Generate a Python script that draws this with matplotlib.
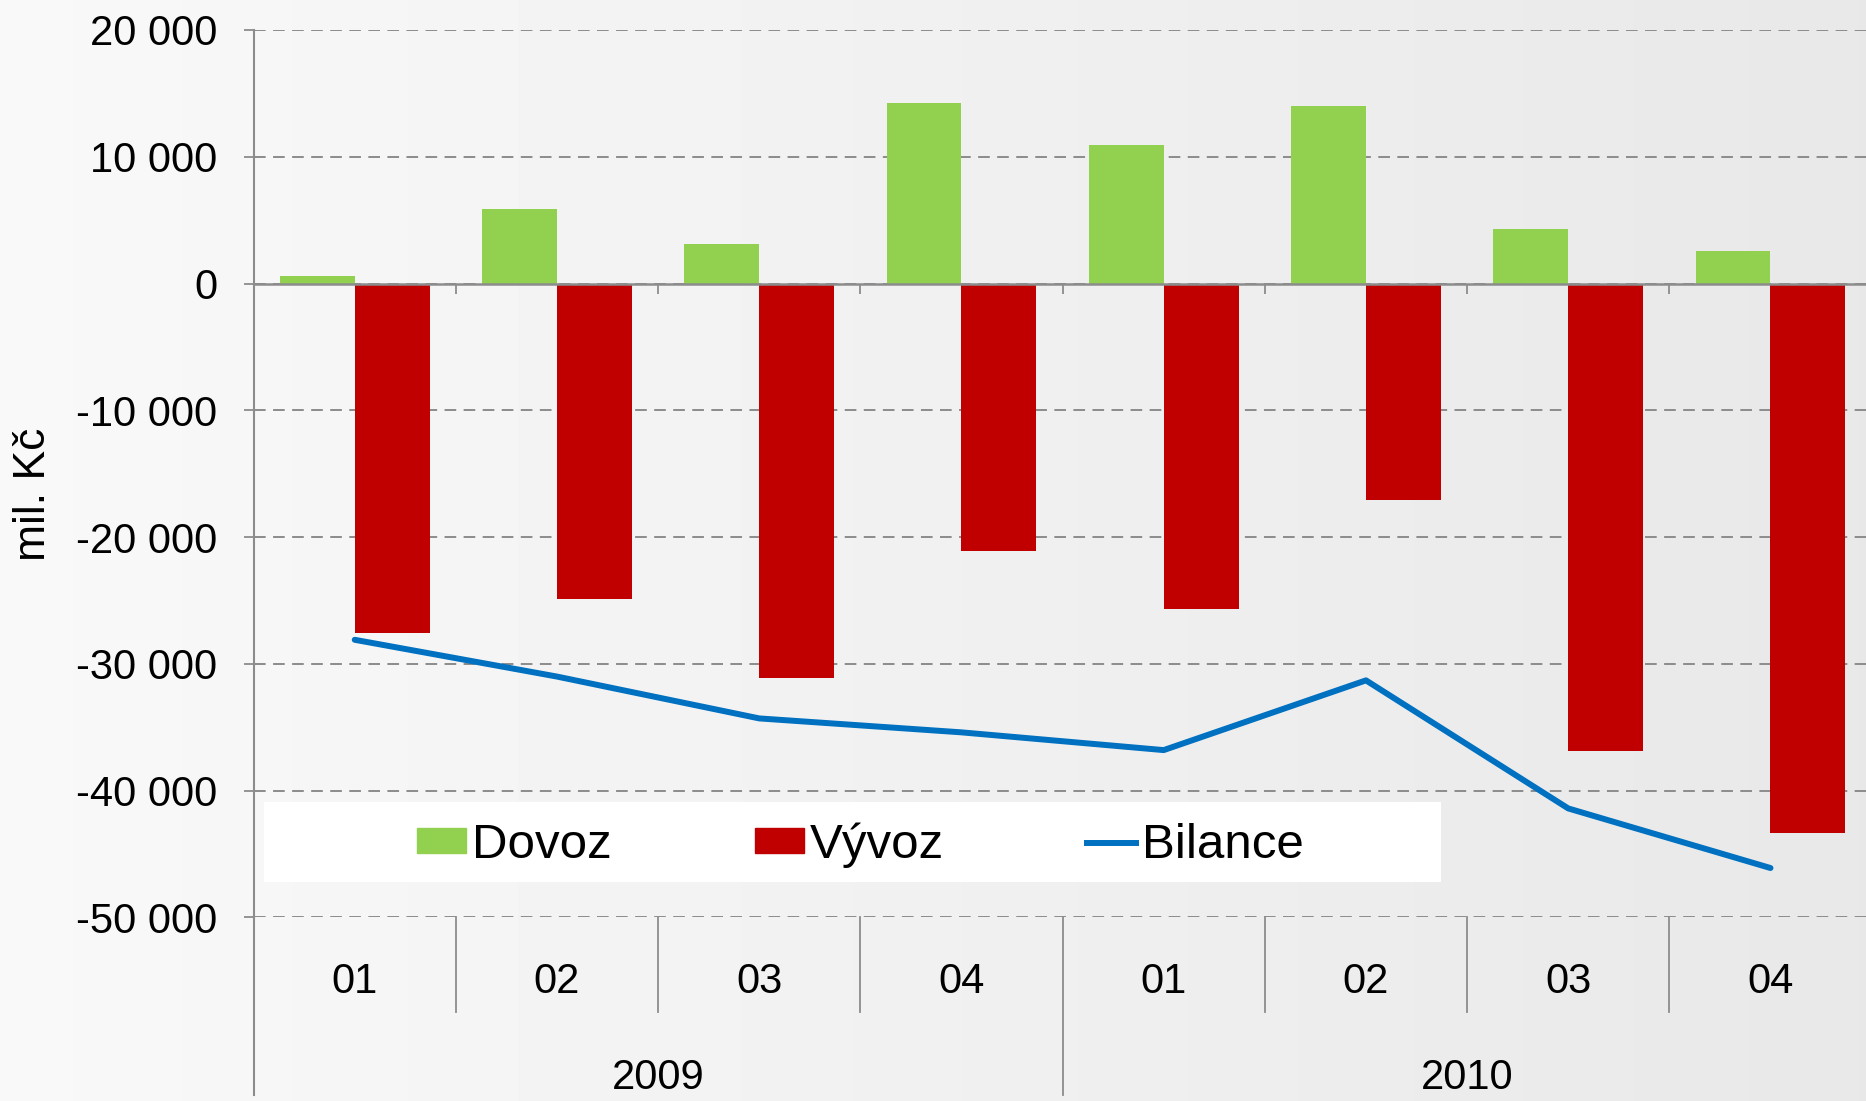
import matplotlib.pyplot as plt
import numpy as np
from matplotlib.transforms import blended_transform_factory
from matplotlib.patches import Rectangle
from matplotlib.lines import Line2D

plt.rcParams['font.family'] = ['Liberation Sans', 'DejaVu Sans']

# Data (mil. Kč), čtvrtletí 2009-2010
quarters = ['01', '02', '03', '04', '01', '02', '03', '04']
years = ['2009', '2010']
dovoz = [600, 5900, 3100, 14200, 10900, 14000, 4300, 2600]
vyvoz = [-27600, -24900, -31100, -21100, -25700, -17100, -36900, -43300]
bilance = [-28100, -31000, -34300, -35400, -36800, -31300, -41400, -46100]
series_names = ['Dovoz', 'Vývoz', 'Bilance']

fig = plt.figure(figsize=(18.66, 11.01), dpi=100)

# pozadí s jemným přechodem
bg = fig.add_axes([0, 0, 1, 1], zorder=-10)
grad = np.linspace(0.975, 0.91, 256).reshape(1, -1)
bg.imshow(grad, cmap='gray', vmin=0, vmax=1, aspect='auto', extent=[0, 1, 0, 1])
bg.axis('off')

ax = fig.add_axes([0.1359, 0.1667, 1.003 - 0.1359, 0.9728 - 0.1667])
ax.set_facecolor('none')

x = np.arange(len(quarters))
w = 0.37
ax.bar(x - w / 2, dovoz, width=w, color='#92D050', zorder=3)
ax.bar(x + w / 2, vyvoz, width=w, color='#C00000', zorder=3)
ax.plot(x, bilance, color='#0070C0', lw=4.3, solid_capstyle='round', zorder=4)

ax.set_xlim(-0.5, len(quarters) - 0.5)
ax.set_ylim(-50000, 20000)
ax.set_yticks(np.arange(-50000, 20001, 10000))
ax.set_yticklabels([f'{v:,}'.replace(',', ' ') for v in range(-50000, 20001, 10000)])
ax.yaxis.grid(True, color='#8C8C8C', lw=1.4, dashes=(6, 3.8), zorder=0)
ax.tick_params(axis='y', labelsize=30, length=7, width=1.3, color='#8C8C8C', pad=19)

for s in ['top', 'right']:
    ax.spines[s].set_visible(False)
ax.spines['left'].set_color('#8C8C8C')
ax.spines['left'].set_linewidth(1.5)
ax.spines['left'].set_bounds(-50000, 20000)
ax.spines['bottom'].set_position(('data', 0))
ax.spines['bottom'].set_color('#8C8C8C')
ax.spines['bottom'].set_linewidth(1.8)
ax.spines['bottom'].set_zorder(5)
ax.set_xticks(np.arange(0.5, len(quarters) - 0.5, 1))
ax.set_xticklabels([])
ax.tick_params(axis='x', direction='out', length=7, width=1.3, color='#8C8C8C')

# kategoriální osa pod grafem
tr = blended_transform_factory(ax.transData, ax.transAxes)
for i, q in enumerate(quarters):
    ax.text(i, -0.0727, q, transform=tr, ha='center', va='center', fontsize=30)
for b in np.arange(0.5, len(quarters) - 0.5, 1):
    bottom = -0.2 if b == 3.5 else -0.106
    ax.add_line(Line2D([b, b], [0, bottom], transform=tr, color='#8C8C8C',
                       lw=1.3, clip_on=False))
ax.add_line(Line2D([-0.5, -0.5], [0, -0.2], transform=tr, color='#8C8C8C',
                   lw=1.5, clip_on=False))
for j, yr in enumerate(years):
    ax.text(j * 4 + 1.5, -0.181, yr, transform=tr, ha='center', va='center', fontsize=30)

fig.text(0.018, 0.551, 'mil. Kč', rotation=90, ha='center', va='center', fontsize=32)

# legenda v bílém rámečku
ax.add_patch(Rectangle((0.0065, 0.040), 0.7275, 0.09, transform=ax.transAxes,
                       facecolor='white', edgecolor='none', zorder=6))
handles = [Rectangle((0, 0), 1, 1, color='#92D050'),
           Rectangle((0, 0), 1, 1, color='#C00000'),
           Line2D([0], [0], color='#0070C0', lw=4.3)]
leg = ax.legend(handles, series_names,
                loc='center', bbox_to_anchor=(0.375, 0.081), ncol=3, frameon=False,
                fontsize=35.5, handlelength=1.0, handleheight=0.42, handletextpad=0.12,
                columnspacing=2.9, borderpad=0)
leg.set_zorder(7)

fig.savefig('out.png', dpi=100)
